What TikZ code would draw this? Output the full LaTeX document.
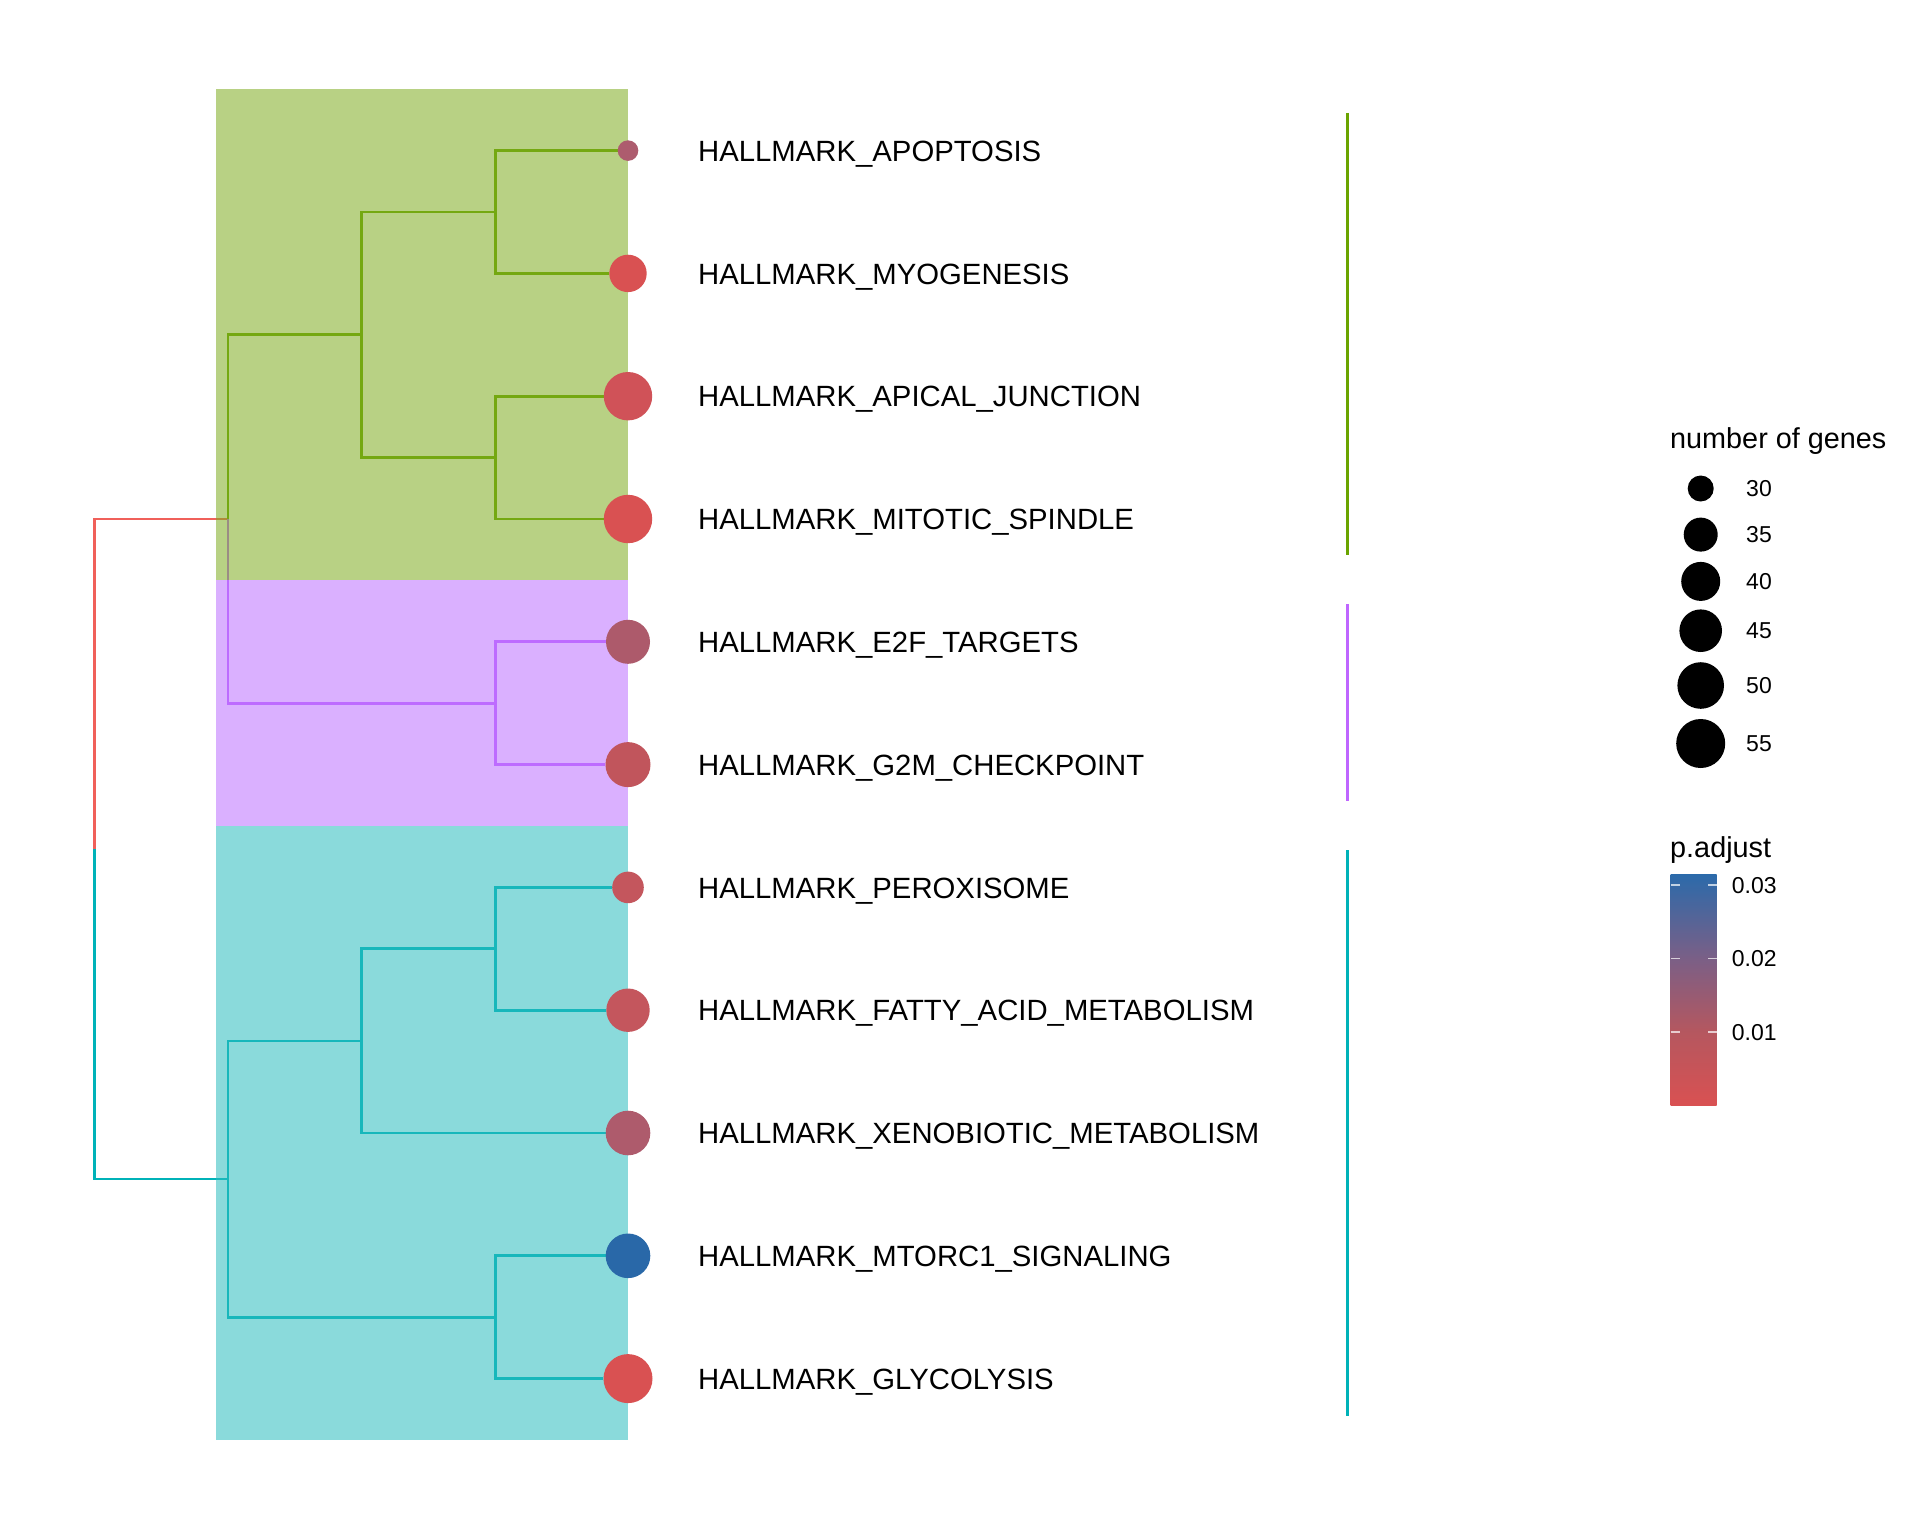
\documentclass[tikz,border=0pt]{standalone}
\usepackage{fontspec}
\setmainfont{Liberation Sans}
\usetikzlibrary{calc}
\pgfdeclarelayer{bgwhite}
\pgfdeclarelayer{treelines}
\pgfdeclarelayer{hilite}
\pgfsetlayers{bgwhite,treelines,hilite,main}
\definecolor{grl}{HTML}{6AA400}
\definecolor{pul}{HTML}{BF66FF}
\definecolor{cyl}{HTML}{00B2B8}
\definecolor{rdl}{HTML}{F0605A}
\definecolor{grf}{HTML}{7EAD1F}
\definecolor{puf}{HTML}{BD70FF}
\definecolor{cyf}{HTML}{2ABCBE}
\definecolor{cA}{HTML}{AD5C6E}
\definecolor{cB}{HTML}{D95152}
\definecolor{cC}{HTML}{D05258}
\definecolor{cE}{HTML}{AD5A6B}
\definecolor{cG}{HTML}{C1555C}
\definecolor{cP}{HTML}{C4565D}
\definecolor{cX}{HTML}{AE5B6C}
\definecolor{cM}{HTML}{2968A8}
\definecolor{cbot}{HTML}{D95152}
\definecolor{cone}{HTML}{B5575F}
\definecolor{ctwo}{HTML}{7B5F86}
\definecolor{ctop}{HTML}{2C6AAA}
\pgfdeclareverticalshading{padj}{100bp}{color(0bp)=(cbot); color(25bp)=(cbot); color(40.9bp)=(cone); color(56.7bp)=(ctwo); color(75bp)=(ctop); color(100bp)=(ctop)}
\begin{document}
\begin{tikzpicture}[x=1pt,y=-1pt,
  edge/.style={line width=2.7pt},
  clbar/.style={line width=3pt},
  dot/.style={circle,inner sep=0pt,draw=none},
  tiplab/.style={anchor=base west,inner sep=0pt,font=\fontsize{29.3}{35}\selectfont},
  legtitle/.style={anchor=base west,inner sep=0pt,font=\fontsize{28.8}{34}\selectfont},
  leglab/.style={anchor=base west,inner sep=0pt,font=\fontsize{23}{28}\selectfont},
  ldot/.style={circle,inner sep=0pt,draw=none,fill=black},
  tick/.style={white,opacity=0.7,line width=1.5pt}]
\begin{pgfonlayer}{bgwhite}
\fill[white] (0,0) rectangle (1920,1536);
\end{pgfonlayer}
\useasboundingbox (0,0) rectangle (1920,1536);
% internal nodes
\coordinate (R) at (94.3,849);
\coordinate (A) at (228,519);
\coordinate (G) at (361.6,334.8);
\coordinate (G1) at (495.5,212);
\coordinate (G2) at (495.5,457.6);
\coordinate (P) at (495.5,703.2);
\coordinate (C) at (228,1179);
\coordinate (C1) at (361.6,1040.9);
\coordinate (C11) at (495.5,948.8);
\coordinate (C2) at (495.5,1317.2);
% leaf dots
\node[dot,minimum size=20.6pt,fill=cA] (d1) at (628,150.6) {};
\node[dot,minimum size=37.4pt,fill=cB] (d2) at (628,273.4) {};
\node[dot,minimum size=48.4pt,fill=cC] (d3) at (628,396.2) {};
\node[dot,minimum size=48.4pt,fill=cB] (d4) at (628,519.0) {};
\node[dot,minimum size=44pt,fill=cE] (d5) at (628,641.8) {};
\node[dot,minimum size=45pt,fill=cG] (d6) at (628,764.6) {};
\node[dot,minimum size=31.6pt,fill=cP] (d7) at (628,887.4) {};
\node[dot,minimum size=43.4pt,fill=cP] (d8) at (628,1010.2) {};
\node[dot,minimum size=44.6pt,fill=cX] (d9) at (628,1133.0) {};
\node[dot,minimum size=44.6pt,fill=cM] (d10) at (628,1255.8) {};
\node[dot,minimum size=49pt,fill=cB] (d11) at (628,1378.6) {};
% labels
\node[tiplab] (t1) at (698,161.2) {HALLMARK\_APOPTOSIS};
\node[tiplab] (t2) at (698,284.0) {HALLMARK\_MYOGENESIS};
\node[tiplab] (t3) at (698,406.8) {HALLMARK\_APICAL\_JUNCTION};
\node[tiplab] (t4) at (698,529.6) {HALLMARK\_MITOTIC\_SPINDLE};
\node[tiplab] (t5) at (698,652.4) {HALLMARK\_E2F\_TARGETS};
\node[tiplab] (t6) at (698,775.2) {HALLMARK\_G2M\_CHECKPOINT};
\node[tiplab] (t7) at (698,898.0) {HALLMARK\_PEROXISOME};
\node[tiplab] (t8) at (698,1020.8) {HALLMARK\_FATTY\_ACID\_METABOLISM};
\node[tiplab] (t9) at (698,1143.6) {HALLMARK\_XENOBIOTIC\_METABOLISM};
\node[tiplab] (t10) at (698,1266.4) {HALLMARK\_MTORC1\_SIGNALING};
\node[tiplab] (t11) at (698,1389.2) {HALLMARK\_GLYCOLYSIS};
% tree edges
\begin{pgfonlayer}{treelines}
\draw[edge,rdl] (R) |- (A);
\draw[edge,cyl] (R) |- (C);
\draw[edge,grl] (A) |- (G);
\draw[edge,pul] (A) |- (P);
\draw[edge,grl] (G) |- (G1);
\draw[edge,grl] (G) |- (G2);
\draw[edge,grl] (G1) |- (d1);
\draw[edge,grl] (G1) |- (d2);
\draw[edge,grl] (G2) |- (d3);
\draw[edge,grl] (G2) |- (d4);
\draw[edge,pul] (P) |- (d5);
\draw[edge,pul] (P) |- (d6);
\draw[edge,cyl] (C) |- (C1);
\draw[edge,cyl] (C) |- (C2);
\draw[edge,cyl] (C1) |- (C11);
\draw[edge,cyl] (C1) |- (d9);
\draw[edge,cyl] (C11) |- (d7);
\draw[edge,cyl] (C11) |- (d8);
\draw[edge,cyl] (C2) |- (d10);
\draw[edge,cyl] (C2) |- (d11);
\end{pgfonlayer}
% highlight rectangles
\begin{pgfonlayer}{hilite}
\fill[grf,opacity=0.55] (216,89.2) rectangle (628,580.4);
\fill[puf,opacity=0.55] (216,580.4) rectangle (628,826);
\fill[cyf,opacity=0.55] (216,826) rectangle (628,1440);
\end{pgfonlayer}
% cluster bars
\coordinate (b1t) at (1347,113);
\coordinate (b1b) at (1347,555);
\coordinate (b2t) at (1347,604);
\coordinate (b2b) at (1347,801);
\coordinate (b3t) at (1347,850);
\coordinate (b3b) at (1347,1415.5);
\draw[clbar,grl] (b1t) -- (b1b);
\draw[clbar,pul] (b2t) -- (b2b);
\draw[clbar,cyl] (b3t) -- (b3b);
% size legend
\node[legtitle] (st) at (1670,448) {number of genes};
\node[ldot,minimum size=26pt] (s1) at (1700.7,488.5) {};
\node[ldot,minimum size=34pt] (s2) at (1700.7,534.6) {};
\node[ldot,minimum size=39pt] (s3) at (1700.7,581.4) {};
\node[ldot,minimum size=42.6pt] (s4) at (1700.7,630.7) {};
\node[ldot,minimum size=46.6pt] (s5) at (1700.7,685.5) {};
\node[ldot,minimum size=49pt] (s6) at (1700.7,743.5) {};
\node[leglab] (sl1) at (1746,496.7) {30};
\node[leglab] (sl2) at (1746,542.8) {35};
\node[leglab] (sl3) at (1746,589.6) {40};
\node[leglab] (sl4) at (1746,638.9) {45};
\node[leglab] (sl5) at (1746,693.7) {50};
\node[leglab] (sl6) at (1746,751.7) {55};
% colour legend
\node[legtitle] (pt) at (1670,857) {p.adjust};
\shade[shading=padj] (1670.7,874.7) rectangle (1716.7,1105);
\foreach \ty in {885,958.7,1032}{
  \draw[tick] (1670.7,\ty) -- ++(9,0);
  \draw[tick] (1716.7,\ty) -- ++(-9,0);
}
\node[leglab] (pl3) at (1731.7,893.2) {0.03};
\node[leglab] (pl2) at (1731.7,966.9) {0.02};
\node[leglab] (pl1) at (1731.7,1040.2) {0.01};
\end{tikzpicture}
\end{document}
